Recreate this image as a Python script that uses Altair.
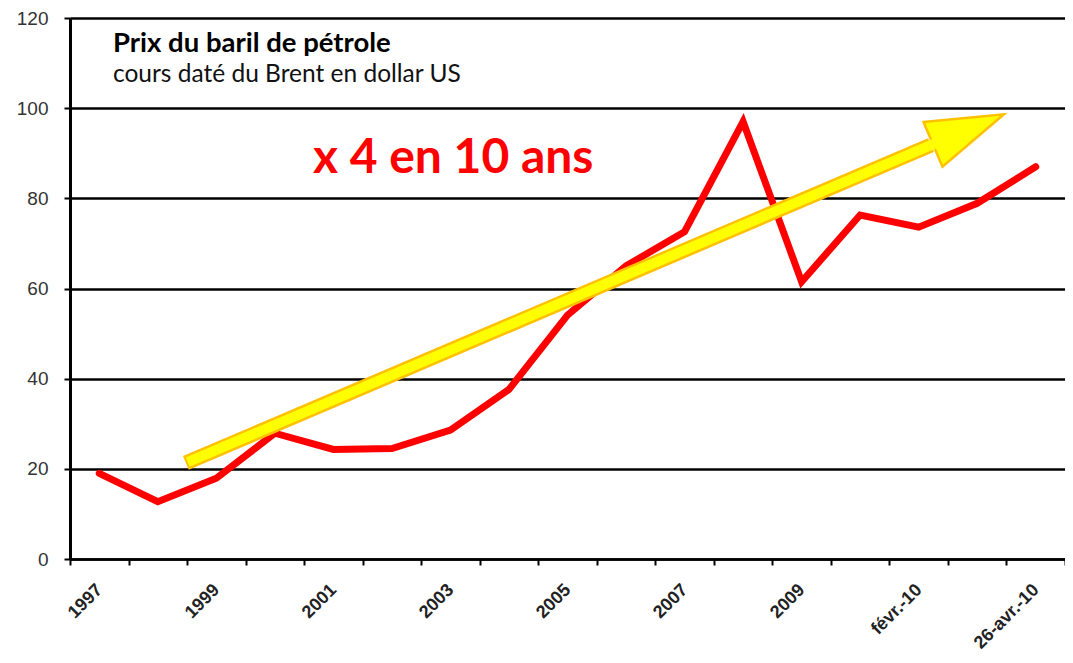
import altair as alt
import pandas as pd

# ---- data ----
categories = ["1997", "1998", "1999", "2000", "2001", "2002", "2003", "2004",
              "2005", "2006", "2007", "2008", "2009", "janv.-10", "févr.-10",
              "mars-10", "26-avr.-10"]
prices = [19.0, 12.7, 17.9, 27.9, 24.3, 24.5, 28.6, 37.6,
          54.1, 65.0, 72.6, 97.0, 61.5, 76.3, 73.6, 78.9, 87.0]
shown_labels = ["1997", "1999", "2001", "2003", "2005", "2007", "2009",
                "févr.-10", "26-avr.-10"]
y_ticks = [0, 20, 40, 60, 80, 100, 120]

# trend arrow annotation (x in category-band units, y in US dollars)
arrow_border_x = [1.98, 14.71]
arrow_border_y = [21.3, 91.8]
arrow_fill_x = [2.01, 14.85]
arrow_fill_y = [21.47, 92.6]
arrow_head_x = [15.35]
arrow_head_y = [95.3]

title_text = ["Prix du baril de pétrole"]
subtitle_text = ["cours daté du Brent en dollar US"]
callout_text = ["x 4 en 10 ans"]

W, H = 995, 541
AXIS_FONT = "Liberation Sans"
TEXT_FONT = "Lato"

df = pd.DataFrame({"cat": categories, "price": prices})

label_list = "[" + ",".join("'" + s + "'" for s in shown_labels) + "]"

y_scale = alt.Scale(domain=[0, 120], nice=False)
y_axis = alt.Axis(title=None, values=y_ticks, grid=True, gridColor="black",
                  gridWidth=2.4, gridOpacity=1, domainColor="black", domainWidth=3,
                  tickColor="black", tickWidth=2, tickSize=6,
                  labelFont=AXIS_FONT, labelFontSize=19, labelColor="#333333",
                  labelPadding=16)

line = alt.Chart(df).mark_line(
    color="#FF0000", strokeWidth=7, strokeJoin="miter", strokeCap="round"
).encode(
    x=alt.X("cat:O", sort=categories,
            scale=alt.Scale(type="band", paddingInner=0, paddingOuter=0),
            axis=alt.Axis(title=None, tickBand="extent", grid=False,
                          labelExpr="indexof(" + label_list + ", datum.value) >= 0 ? datum.label : ''",
                          labelAngle=315, labelAlign="right", labelBaseline="middle",
                          labelFont=AXIS_FONT, labelFontWeight="bold", labelFontSize=18,
                          labelColor="#222222", labelPadding=22, labelOverlap=False,
                          tickSize=6, tickWidth=2, tickColor="black",
                          domainColor="black", domainWidth=2.5)),
    y=alt.Y("price:Q", scale=y_scale, axis=y_axis),
)

border_df = pd.DataFrame({"x": arrow_border_x, "price": arrow_border_y})
fill_df = pd.DataFrame({"x": arrow_fill_x, "price": arrow_fill_y})
head_df = pd.DataFrame({"x": arrow_head_x, "price": arrow_head_y})

ax_q = alt.X("x:Q", scale=alt.Scale(domain=[0, len(categories)], nice=False, zero=False), axis=None)
ay_q = alt.Y("price:Q", scale=y_scale, axis=y_axis)

shaft_border = alt.Chart(border_df).mark_line(
    color="#FFC000", strokeWidth=15, strokeCap="butt"
).encode(x=ax_q, y=ay_q)

head = alt.Chart(head_df).mark_point(
    shape="M -1 -0.63 L 1 0 L -1 0.63 Z", size=5929, angle=337,
    filled=True, fill="#FFFF00", stroke="#FFC000", strokeWidth=2.5,
    opacity=1, fillOpacity=1, strokeOpacity=1
).encode(x=ax_q, y=ay_q)

shaft_fill = alt.Chart(fill_df).mark_line(
    color="#FFFF00", strokeWidth=10, strokeCap="butt"
).encode(x=ax_q, y=ay_q)

title = alt.Chart(pd.DataFrame({"t": title_text})).mark_text(
    font=TEXT_FONT, fontSize=27.5, fontWeight="bold", color="black",
    align="left", baseline="alphabetic"
).encode(x=alt.value(43), y=alt.value(34), text="t:N")

subtitle = alt.Chart(pd.DataFrame({"t": subtitle_text})).mark_text(
    font=TEXT_FONT, fontSize=24.5, color="#111111",
    align="left", baseline="alphabetic"
).encode(x=alt.value(43), y=alt.value(64), text="t:N")

callout = alt.Chart(pd.DataFrame({"t": callout_text})).mark_text(
    font=TEXT_FONT, fontSize=48, fontWeight="bold", color="#FF0000",
    align="left", baseline="alphabetic"
).encode(x=alt.value(243), y=alt.value(155), text="t:N")

arrow = alt.layer(shaft_border, head, shaft_fill)

chart = alt.layer(line, arrow, title, subtitle, callout).resolve_scale(
    x="independent"
).properties(
    width=W, height=H,
    autosize=alt.AutoSizeParams(type="none"),
    padding={"left": 62, "top": 10, "right": 0, "bottom": 95},
).configure_view(stroke=None)

chart.save("out.html", embed_options={"renderer": "svg", "actions": False})
